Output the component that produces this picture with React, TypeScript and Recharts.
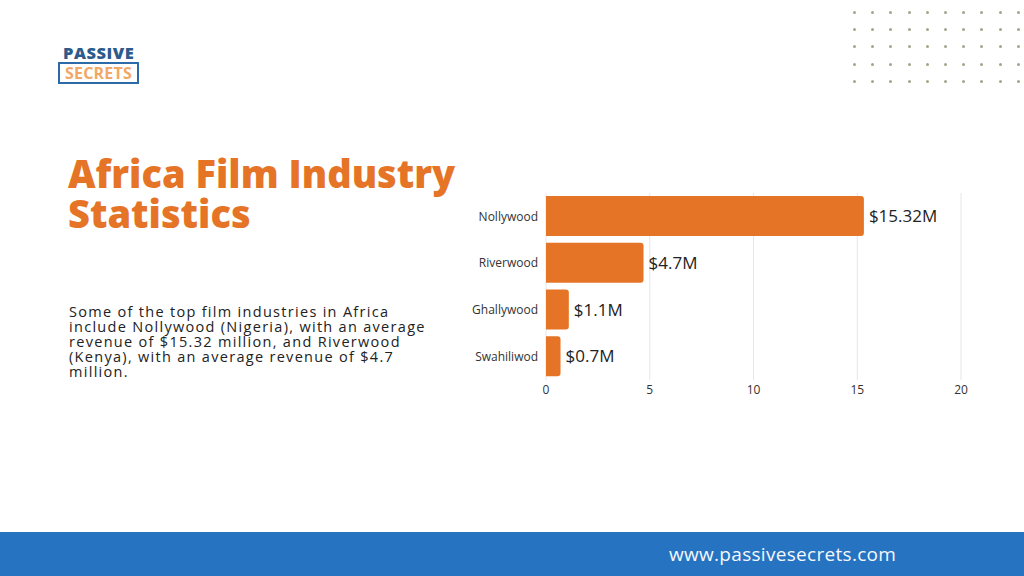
import { BarChart, Bar, XAxis, YAxis, CartesianGrid, LabelList } from "recharts";

const industries = ["Nollywood", "Riverwood", "Ghallywood", "Swahiliwod"];
const revenue = [15.32, 4.7, 1.1, 0.7];
const revenueLabels = ["$15.32M", "$4.7M", "$1.1M", "$0.7M"];
const xTicks = [0, 5, 10, 15, 20];

const data = industries.map((name, i) => ({
  name,
  revenue: revenue[i],
  label: revenueLabels[i],
}));

const ORANGE = "#e57427";

const dotCols = [0, 1, 2, 3, 4, 5, 6, 7, 8, 9];
const dotRows = [0, 1, 2, 3, 4];

const titleLines = ["Africa Film Industry", "Statistics"];
const bodyLines = [
  "Some of the top film industries in Africa",
  "include Nollywood (Nigeria), with an average",
  "revenue of $15.32 million, and Riverwood",
  "(Kenya), with an average revenue of $4.7",
  "million.",
];

export default function App() {
  return (
    <div
      style={{
        position: "absolute",
        left: 0,
        top: 0,
        width: 1024,
        height: 576,
        background: "#ffffff",
        overflow: "hidden",
        fontFamily: "'Open Sans', sans-serif",
      }}
    >
      {/* dot pattern top right */}
      {dotRows.map((r) =>
        dotCols.map((c) => (
          <div
            key={`${r}-${c}`}
            style={{
              position: "absolute",
              left: 853 + c * 18.2,
              top: 11 + r * 17.2,
              width: 3,
              height: 3,
              borderRadius: 2,
              background: "#a8a48c",
            }}
          />
        ))
      )}

      {/* logo */}
      <div
        style={{
          position: "absolute",
          left: 63,
          top: 44,
          fontSize: 16.5,
          lineHeight: "17px",
          fontWeight: 800,
          color: "#2d5b8c",
          letterSpacing: 0.5,
        }}
      >
        PASSIVE
      </div>
      <div
        style={{
          position: "absolute",
          left: 58,
          top: 62,
          width: 77,
          height: 18,
          border: "2px solid #2d6aa8",
          color: "#f2a865",
          fontSize: 16,
          fontWeight: 700,
          lineHeight: "18px",
          textAlign: "center",
          letterSpacing: 0.2,
        }}
      >
        SECRETS
      </div>

      {/* title */}
      {titleLines.map((t, i) => (
        <div
          key={t}
          style={{
            position: "absolute",
            left: 68,
            top: 153 + i * 40,
            height: 40,
            fontSize: 38,
            fontWeight: 800,
            color: ORANGE,
            lineHeight: "40px",
            whiteSpace: "nowrap",
          }}
        >
          {t}
        </div>
      ))}

      {/* description, tight leading as in the original */}
      {bodyLines.map((t, i) => (
        <div
          key={t}
          style={{
            position: "absolute",
            left: 69,
            top: 304 + i * 15,
            height: 15,
            fontSize: 14.5,
            color: "#222",
            lineHeight: "15px",
            letterSpacing: 1.3,
            whiteSpace: "nowrap",
          }}
        >
          {t}
        </div>
      ))}

      {/* chart */}
      <div style={{ position: "absolute", left: 460, top: 180 }}>
        <BarChart
          width={520}
          height={220}
          data={data}
          layout="vertical"
          margin={{ top: 13, right: 19, bottom: 0, left: 0 }}
          barSize={40}
        >
          <CartesianGrid horizontal={false} stroke="#e6e6e6" />
          <XAxis
            type="number"
            domain={[0, 20]}
            ticks={xTicks}
            axisLine={false}
            tickLine={false}
            tickSize={3}
            height={20}
            tick={{ fontSize: 12, fill: "#333" }}
          />
          <YAxis
            type="category"
            dataKey="name"
            width={86}
            axisLine={false}
            tickLine={false}
            tickSize={0}
            tickMargin={8}
            tick={{ fontSize: 12, fill: "#333" }}
          />
          <Bar
            dataKey="revenue"
            fill={ORANGE}
            radius={[0, 3, 3, 0]}
            isAnimationActive={false}
          >
            <LabelList
              dataKey="label"
              position="right"
              offset={5}
              style={{ fontSize: 17, fill: "#222" }}
            />
          </Bar>
        </BarChart>
      </div>

      {/* footer */}
      <div
        style={{
          position: "absolute",
          left: 0,
          top: 532,
          width: 1024,
          height: 44,
        }}
      >
        <div style={{ width: "100%", height: "100%", background: "#2573c1" }} />
        <div
          style={{
            position: "absolute",
            left: 669,
            top: 9,
            fontSize: 19,
            color: "#f4f8fc",
            letterSpacing: 0.3,
          }}
        >
          www.passivesecrets.com
        </div>
      </div>
    </div>
  );
}
